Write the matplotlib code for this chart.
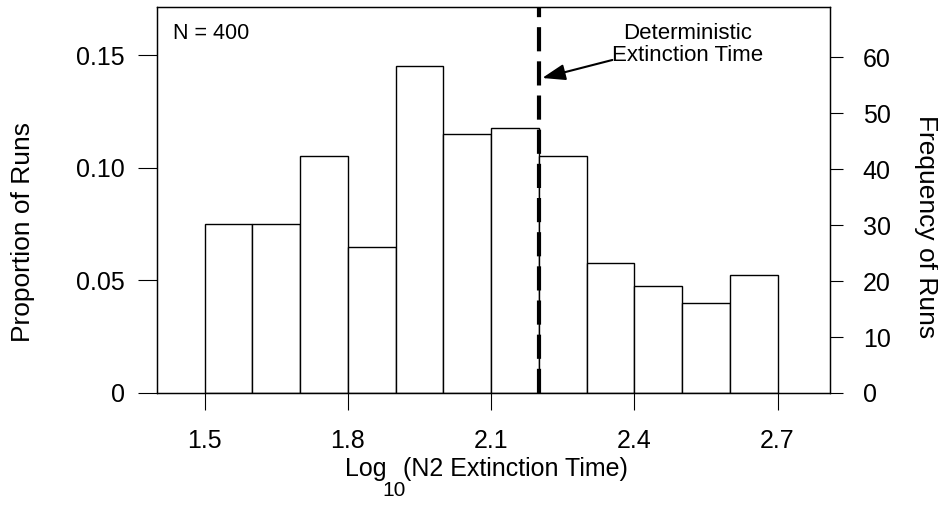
import matplotlib
matplotlib.use('Agg')
import matplotlib.pyplot as plt

# histogram data: left bin edges of log10 extinction time, counts per bin
bin_left = [1.5, 1.6, 1.7, 1.8, 1.9, 2.0, 2.1, 2.2, 2.3, 2.4, 2.5, 2.6]
frequency = [30, 30, 42, 26, 58, 46, 47, 42, 23, 19, 16, 21]
n_runs = 400
det_time = 2.2
x_ticks = [1.5, 1.8, 2.1, 2.4, 2.7]
left_ticks = [0, 0.05, 0.10, 0.15]
left_labels = ['0', '0.05', '0.10', '0.15']
right_ticks = [0, 10, 20, 30, 40, 50, 60]

plt.rcParams['font.family'] = ['Liberation Sans', 'DejaVu Sans']

proportion = [f / n_runs for f in frequency]

W, H = 938, 505
fig = plt.figure(figsize=(W / 100, H / 100), dpi=100)
ax = fig.add_axes([0.1674, 0.2218, 0.7175, 0.7643])
ax.bar(bin_left, proportion, width=0.1, align='edge',
       facecolor='white', edgecolor='black', linewidth=1.0, zorder=2)
ax.axvline(det_time, color='black', linestyle=(0, (5.8, 2.4)), linewidth=3, zorder=3)

ax.set_xlim(1.4, 2.81)
ax.set_ylim(0, 0.1713)
ax.set_xticks(x_ticks)
ax.set_xticklabels([str(t) for t in x_ticks])
ax.set_yticks(left_ticks)
ax.set_yticklabels(left_labels)
ax.tick_params(axis='y', direction='out', length=14, width=0.8, labelsize=18, pad=9)
ax.tick_params(axis='x', direction='out', length=12, width=0.8, labelsize=18, pad=14)
for s in ax.spines.values():
    s.set_linewidth(0.9)

ax2 = ax.twinx()
ax2.set_ylim(0, 69)
ax2.set_yticks(right_ticks)
ax2.tick_params(direction='out', length=9.5, width=0.8, labelsize=18, pad=14)
for s in ax2.spines.values():
    s.set_linewidth(0.9)

# axis titles
fig.text(23 / W, 1 - 232 / H, 'Proportion of Runs', fontsize=19,
         rotation=90, ha='center', va='center')
fig.text(926 / W, 1 - 227 / H, 'Frequency of Runs', fontsize=19,
         rotation=270, ha='center', va='center')

# x title with a dropped "10" subscript, pieces placed one after another
renderer = fig.canvas.get_renderer()
x_px = 345
pieces = [('Log', 18, 476, -4), ('10', 15, 496, -3), ('(N2 Extinction Time)', 18, 476, 0)]
for txt, size, base_y, gap in pieces:
    t = fig.text(x_px / W, 1 - base_y / H, txt, fontsize=size, ha='left', va='baseline')
    x_px += t.get_window_extent(renderer).width + gap

ax.text(0.0238, 0.917, 'N = 400', transform=ax.transAxes, fontsize=15.5,
        ha='left', va='baseline')
ax.text(2.512, 0.1547, 'Deterministic\nExtinction Time', fontsize=16,
        ha='center', va='center', linespacing=1.05)
ax.annotate('', xy=(2.207, 0.1398), xytext=(2.354, 0.1478),
            arrowprops=dict(arrowstyle='-|>,head_length=1.0,head_width=0.35',
                            color='black', lw=1.5, mutation_scale=14,
                            shrinkA=0, shrinkB=0),
            zorder=4)

fig.savefig('out.png', dpi=100)
